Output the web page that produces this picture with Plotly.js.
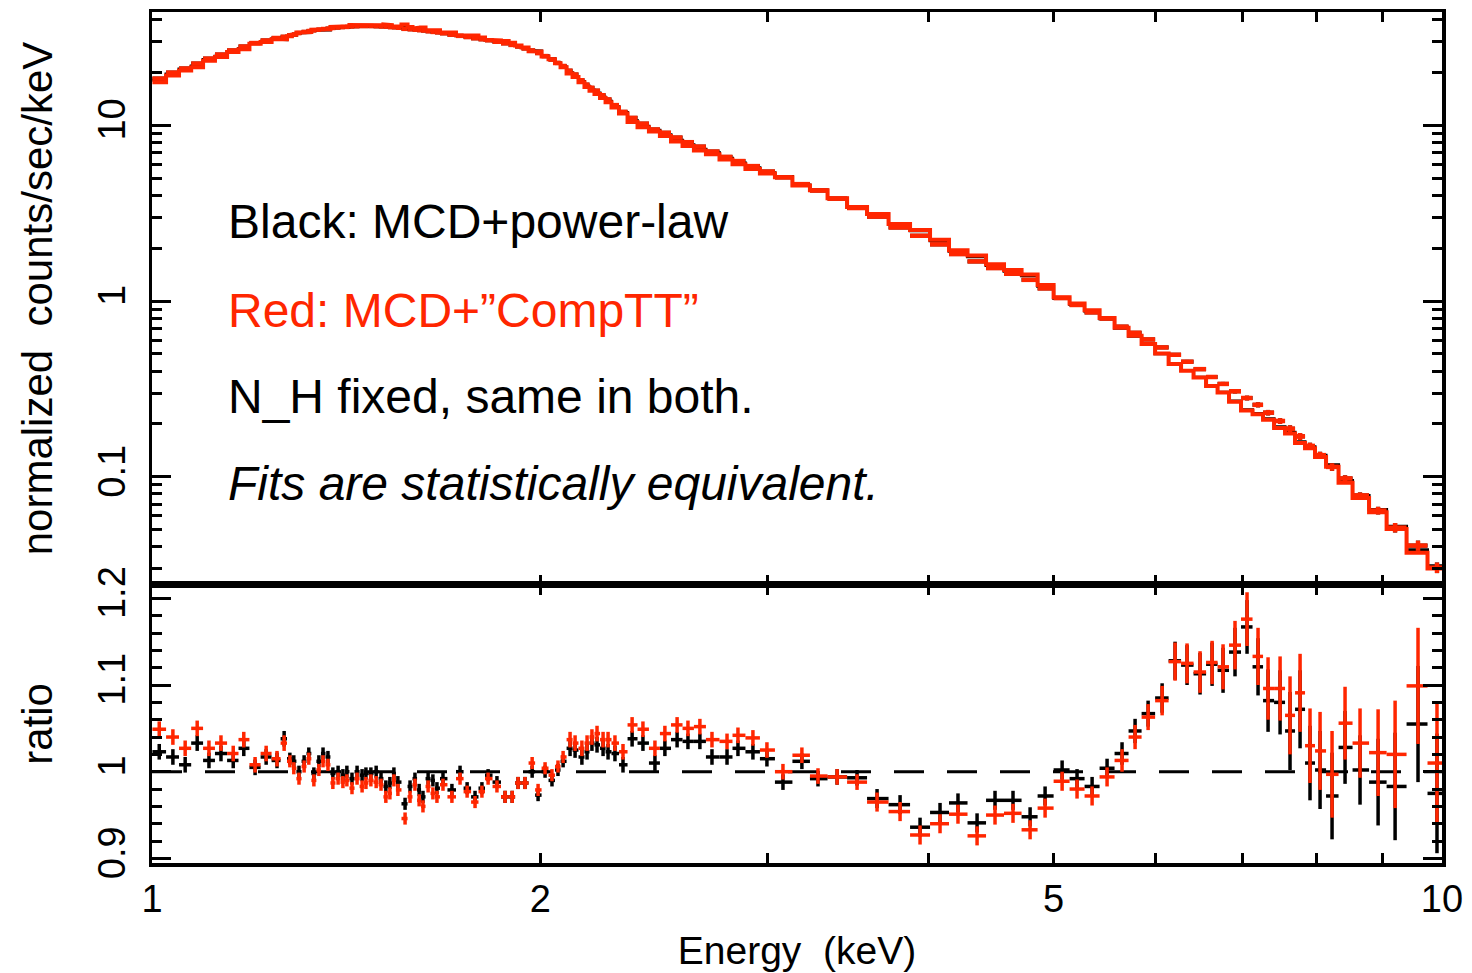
<!DOCTYPE html>
<html>
<head>
<meta charset="utf-8">
<script src="https://cdn.plot.ly/plotly-3.0.1.min.js"></script>
<style>
  html, body { margin: 0; padding: 0; background: #ffffff; }
  #chart { width: 1472px; height: 973px; }
</style>
</head>
<body>
<div id="chart"></div>
<script>
// ---------------- data ----------------
// bin centres, keV
const energy = [1.013,1.038,1.061,1.084,1.107,1.131,1.156,1.178,1.202,1.226,1.250,1.266,
1.279,1.288,1.300,1.312,1.323,1.335,1.347,1.357,1.369,1.381,1.394,1.406,1.416,1.429,1.442,1.455,1.465,1.478,1.492,1.505,1.518,1.529,1.540,1.551,1.571,1.585,1.599,1.611,1.622,1.637,1.651,1.663,1.681,1.708,1.733,1.755,1.780,1.802,1.822,1.851,1.878,1.902,1.922,1.946,1.971,1.992,2.017,2.042,2.064,2.083,
2.109,2.128,2.154,2.174,2.193,2.213,2.237,2.257,2.285,2.318,2.356,2.402,2.454,2.498,2.553,2.603,2.659,2.717,2.791,2.846,2.923,2.997,3.084,3.190,3.283,3.397,3.520,
3.648,3.801,3.939,4.082,4.215,4.361,4.503,4.650,4.794,4.924,5.076,5.213,5.355,5.500,
5.649,5.782,5.918,6.068,6.210,6.344,6.493,6.634,6.765,6.911,7.061,7.201,7.331,7.490,7.624,7.762,7.901,8.044,8.218,8.411,8.639,8.922,9.197,9.581,9.911];

// normalized counts/sec/keV
const rate = [18.4,19.9,21.0,22.4,23.9,25.2,26.6,28.0,29.3,30.3,31.3,31.8,
32.4,32.8,33.4,33.9,34.3,34.6,34.9,35.2,35.4,35.7,35.9,36.1,36.2,36.4,36.5,36.6,36.6,36.6,36.5,36.4,36.3,36.1,36.0,35.8,35.3,35.1,34.9,34.7,34.5,34.2,33.9,33.7,33.3,32.7,32.2,31.7,31.2,30.8,30.4,29.8,29.2,28.6,28.0,27.3,26.6,25.7,24.7,23.6,22.6,21.7,
20.4,19.4,18.0,17.0,16.3,15.7,14.8,14.0,13.0,11.9,11.0,10.2,9.45,9.05,8.50,8.00,7.55,7.08,6.60,6.25,5.85,5.45,5.05,4.62,4.25,3.82,3.38,
3.02,2.62,2.35,2.10,1.85,1.68,1.54,1.43,1.32,1.18,1.04,0.950,0.862,0.795,
0.715,0.660,0.605,0.545,0.495,0.452,0.410,0.370,0.338,0.307,0.281,0.257,0.232,0.208,0.188,0.170,0.150,0.133,0.114,0.098,0.0785,0.0644,0.0515,0.0407,0.0305];

// data/model ratio, MCD + "CompTT" (red)
const ratioRed = [1.049,1.040,1.027,1.050,1.027,1.033,1.021,1.037,1.008,1.021,1.015,1.033,
1.012,1.004,0.992,1.006,1.015,0.990,1.002,1.012,1.008,0.987,0.992,0.988,0.990,0.981,0.992,0.983,0.987,0.990,0.988,0.985,0.971,0.975,0.990,0.979,0.946,0.971,0.985,0.967,0.960,0.983,0.975,0.971,0.985,0.971,0.992,0.977,0.965,0.977,0.992,0.983,0.971,0.971,0.987,0.987,1.010,0.979,1.004,0.996,1.006,1.017,
1.037,1.033,1.027,1.033,1.040,1.044,1.037,1.037,1.033,1.023,1.054,1.049,1.027,1.044,1.054,1.050,1.052,1.037,1.035,1.042,1.039,1.025,1.000,1.019,0.995,0.994,0.988,
0.965,0.954,0.927,0.940,0.951,0.926,0.950,0.952,0.933,0.958,0.989,0.980,0.972,0.994,
1.013,1.040,1.063,1.082,1.127,1.125,1.115,1.126,1.121,1.146,1.176,1.133,1.096,1.096,1.065,1.091,1.030,1.024,0.997,1.056,1.033,1.022,1.020,1.099,1.010];

// data/model ratio, MCD + power-law (black)
const ratioBlack = [1.023,1.017,1.008,1.033,1.013,1.021,1.013,1.027,1.005,1.017,1.013,1.038,
1.015,1.012,1.000,1.012,1.021,0.998,1.012,1.021,1.017,0.998,1.000,0.996,1.000,0.992,1.000,0.996,0.998,0.998,1.000,0.992,0.983,0.987,0.998,0.988,0.963,0.983,0.992,0.979,0.971,0.992,0.990,0.981,0.992,0.979,1.000,0.981,0.971,0.981,0.996,0.988,0.971,0.971,0.987,0.987,1.000,0.973,1.000,0.990,1.002,1.012,
1.027,1.025,1.017,1.023,1.033,1.031,1.027,1.023,1.021,1.008,1.038,1.033,1.010,1.027,1.037,1.035,1.035,1.017,1.017,1.027,1.023,1.015,0.988,1.012,0.992,0.994,0.993,
0.969,0.962,0.936,0.953,0.964,0.941,0.967,0.967,0.948,0.972,1.002,0.992,0.983,1.004,
1.021,1.047,1.067,1.085,1.128,1.123,1.113,1.124,1.117,1.138,1.167,1.121,1.082,1.080,1.047,1.072,1.010,1.002,0.972,1.028,1.002,0.988,0.983,1.055,0.975];

// 1-sigma relative error of each bin
const relErr = [0.009,0.009,0.009,0.009,0.009,0.009,0.009,0.009,0.009,0.009,0.009,0.009,
0.007,0.007,0.007,0.007,0.007,0.007,0.007,0.007,0.007,0.007,0.007,0.007,0.007,0.007,0.007,0.007,0.007,0.007,0.007,0.007,0.007,0.007,0.007,0.007,0.007,0.007,0.007,0.007,0.007,0.007,0.007,0.007,0.007,0.007,0.007,0.007,0.007,0.007,0.007,0.007,0.007,0.007,0.007,0.007,0.007,0.007,0.007,0.007,0.007,0.007,
0.009,0.009,0.009,0.009,0.009,0.009,0.009,0.009,0.009,0.009,0.009,0.009,0.009,0.009,0.009,0.009,0.009,0.009,0.009,0.009,0.009,0.009,0.009,0.009,0.009,0.009,0.009,
0.011,0.011,0.011,0.011,0.011,0.011,0.011,0.011,0.011,0.011,0.011,0.011,0.011,0.011,
0.013,0.014,0.015,0.017,0.022,0.023,0.024,0.025,0.026,0.028,0.031,0.033,0.036,0.037,0.045,0.045,0.043,0.045,0.050,0.042,0.040,0.050,0.062,0.067,0.069];

const xTickVals = [1,2,3,4,5,6,7,8,9,10];
const xTickText = ['1','2','','','5','','','','','10'];
const yTopTickVals = [0.1,1,10];
const yTopTickText = ['0.1','1','10'];
const yTopMinor = [0.03,0.04,0.05,0.06,0.07,0.08,0.09,0.2,0.3,0.4,0.5,0.6,0.7,0.8,0.9,2,3,4,5,6,7,8,9,20,30,40];
const yRatTickVals = [0.9,1.0,1.1,1.2];
const yRatTickText = ['0.9','1','1.1','1.2'];
const yRatMinor = [0.92,0.94,0.96,0.98,1.02,1.04,1.06,1.08,1.12,1.14,1.16,1.18];

const annotationLines = [
  {text: 'Black: MCD+power-law', color: '#000000', italic: false},
  {text: 'Red: MCD+\u201dCompTT\u201d', color: '#ff2600', italic: false},
  {text: 'N_H fixed, same in both.', color: '#000000', italic: false},
  {text: 'Fits are statistically equivalent.', color: '#000000', italic: true}
];

// ---------------- derived geometry of bins ----------------
const n = energy.length;
const lo = [], hi = [];
for (let i = 0; i < n; i++) {
  const l = i === 0 ? energy[0] * energy[0] / Math.sqrt(energy[0] * energy[1]) : Math.sqrt(energy[i-1] * energy[i]);
  const h = i === n - 1 ? energy[n-1] * energy[n-1] / Math.sqrt(energy[n-2] * energy[n-1]) : Math.sqrt(energy[i] * energy[i+1]);
  lo.push(l); hi.push(h);
}
const xMinus = energy.map((e, i) => e - lo[i]);
const xPlus = energy.map((e, i) => hi[i] - e);

function steps(vals) {
  const xs = [], ys = [];
  for (let i = 0; i < n; i++) { xs.push(lo[i], hi[i]); ys.push(vals[i], vals[i]); }
  return {x: xs, y: ys};
}
const modelBlack = rate.map((r, i) => r / ratioBlack[i]);
const modelRed = rate.map((r, i) => r / ratioRed[i]);
const rateErr = rate.map((r, i) => r * relErr[i]);

const RED = '#ff2600';
const BLK = '#000000';

function crosses(xa, ya, yvals, yerr, color, w) {
  return {
    type: 'scatter', mode: 'markers', xaxis: xa, yaxis: ya,
    x: energy, y: yvals,
    marker: {size: 1, color: color},
    error_x: {type: 'data', symmetric: false, array: xPlus, arrayminus: xMinus, color: color, thickness: w, width: 0},
    error_y: {type: 'data', array: yerr, color: color, thickness: w, width: 0},
    hoverinfo: 'skip', showlegend: false
  };
}
function stepLine(vals, color, w) {
  const s = steps(vals);
  return {type: 'scatter', mode: 'lines', xaxis: 'x2', yaxis: 'y', x: s.x, y: s.y,
    line: {color: color, width: w}, hoverinfo: 'skip', showlegend: false};
}

const traces = [
  stepLine(modelBlack, BLK, 3),
  crosses('x2', 'y', rate, rateErr, BLK, 4),
  stepLine(modelRed, RED, 4),
  crosses('x2', 'y', rate, rateErr, RED, 4.5),
  crosses('x', 'y2', ratioBlack, relErr, BLK, 3.5),
  crosses('x', 'y2', ratioRed, relErr, RED, 3.5)
];

const FONT = '"Liberation Sans", Arial, Helvetica, sans-serif';
const split = 0.3267;

const axisCommon = {
  showline: true, linewidth: 3.5, linecolor: '#000', mirror: 'ticks',
  ticks: 'inside', tickwidth: 3, tickcolor: '#000',
  showgrid: false, zeroline: false,
  tickfont: {family: FONT, size: 38, color: '#000'}
};

const layout = {
  width: 1472, height: 973,
  margin: {l: 152, r: 30, t: 12, b: 110},
  paper_bgcolor: '#fff', plot_bgcolor: '#fff',
  showlegend: false,
  font: {family: FONT, color: '#000'},
  xaxis: Object.assign({}, axisCommon, {
    type: 'log', range: [0, 1], anchor: 'y2', domain: [0, 1],
    tickmode: 'array', tickvals: xTickVals, ticktext: xTickText, ticklen: 10,
    title: {text: 'Energy \u00a0(keV)', font: {family: FONT, size: 39}, standoff: 18}
  }),
  xaxis2: Object.assign({}, axisCommon, {
    type: 'log', range: [0, 1], anchor: 'y', domain: [0, 1], matches: 'x',
    tickmode: 'array', tickvals: xTickVals, ticktext: xTickText, ticklen: 10,
    showticklabels: false
  }),
  yaxis: Object.assign({}, axisCommon, {
    type: 'log', range: [Math.log10(0.0243), Math.log10(44)], domain: [split, 1], anchor: 'x2',
    tickmode: 'array', tickvals: yTopTickVals, ticktext: yTopTickText, ticklen: 19, tickangle: -90,
    ticklabelstandoff: 8,
    minor: {tickmode: 'array', tickvals: yTopMinor, ticklen: 10, tickwidth: 3, tickcolor: '#000', ticks: 'inside'},
    title: {text: 'normalized \u00a0counts/sec/keV', font: {family: FONT, size: 42}, standoff: 26}
  }),
  yaxis2: Object.assign({}, axisCommon, {
    type: 'linear', range: [0.8947, 1.2154], domain: [0, split], anchor: 'x',
    tickmode: 'array', tickvals: yRatTickVals, ticktext: yRatTickText, ticklen: 19, tickangle: -90,
    ticklabelstandoff: 8,
    minor: {tickmode: 'array', tickvals: yRatMinor, ticklen: 10, tickwidth: 3, tickcolor: '#000', ticks: 'inside'},
    title: {text: 'ratio', font: {family: FONT, size: 42}, standoff: 26}
  }),
  shapes: [
    {type: 'line', xref: 'x', yref: 'y2', x0: 1, x1: 10, y0: 1, y1: 1,
     line: {color: '#000', width: 3, dash: '30px,23px'}, layer: 'below'}
  ],
  annotations: annotationLines.map((a, i) => ({
    xref: 'paper', yref: 'paper', x: 0.0574, y: [0.7533, 0.6498, 0.5476, 0.4465][i],
    xanchor: 'left', yanchor: 'middle', showarrow: false,
    text: a.italic ? '<i>' + a.text + '</i>' : a.text,
    font: {family: FONT, size: 48, color: a.color}
  }))
};

Plotly.newPlot('chart', traces, layout, {staticPlot: true, displayModeBar: false});
</script>
</body>
</html>
